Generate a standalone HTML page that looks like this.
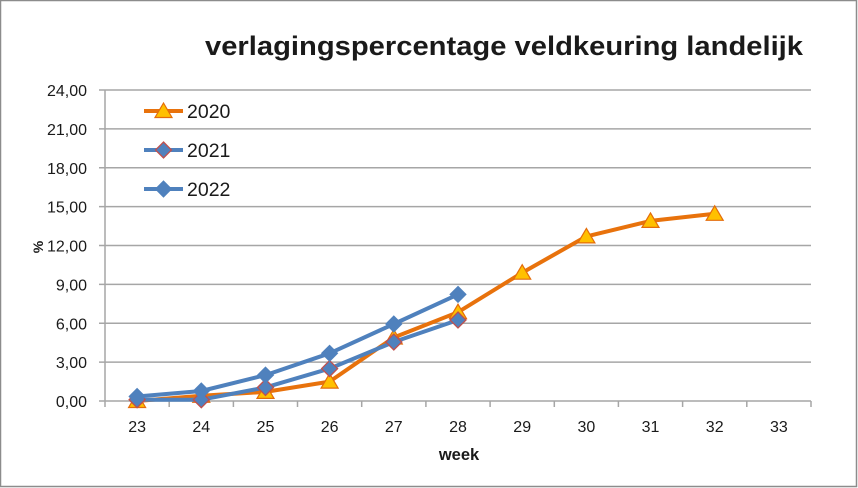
<!DOCTYPE html>
<html>
<head>
<meta charset="utf-8">
<style>
  html,body{margin:0;padding:0;background:#fff;}
  svg{display:block;}
  text{font-family:"Liberation Sans", "DejaVu Sans", sans-serif;fill:#1a1a1a;}
</style>
</head>
<body>
<svg width="858" height="488" viewBox="0 0 858 488" xmlns="http://www.w3.org/2000/svg">
  <rect x="0" y="0" width="858" height="488" fill="#fff"/>
  <rect x="0.5" y="0.5" width="856" height="486" fill="none" stroke="#8c8c8c" stroke-width="1.5"/>

  <!-- Title -->
  <text x="205" y="55" font-size="27" font-weight="bold" textLength="598" lengthAdjust="spacingAndGlyphs" fill="#000">verlagingspercentage veldkeuring landelijk</text>

  <!-- gridlines -->
  <g stroke="#a6a6a6" stroke-width="1.5">
    <line x1="99" y1="90" x2="811" y2="90"/>
    <line x1="99" y1="128.9" x2="811" y2="128.9"/>
    <line x1="99" y1="167.8" x2="811" y2="167.8"/>
    <line x1="99" y1="206.6" x2="811" y2="206.6"/>
    <line x1="99" y1="245.5" x2="811" y2="245.5"/>
    <line x1="99" y1="284.4" x2="811" y2="284.4"/>
    <line x1="99" y1="323.3" x2="811" y2="323.3"/>
    <line x1="99" y1="362.1" x2="811" y2="362.1"/>
    <line x1="99" y1="401" x2="811" y2="401"/>
    <line x1="105" y1="90" x2="105" y2="407"/>
    <line x1="169.2" y1="401" x2="169.2" y2="407"/>
    <line x1="233.4" y1="401" x2="233.4" y2="407"/>
    <line x1="297.5" y1="401" x2="297.5" y2="407"/>
    <line x1="361.7" y1="401" x2="361.7" y2="407"/>
    <line x1="425.9" y1="401" x2="425.9" y2="407"/>
    <line x1="490.1" y1="401" x2="490.1" y2="407"/>
    <line x1="554.3" y1="401" x2="554.3" y2="407"/>
    <line x1="618.4" y1="401" x2="618.4" y2="407"/>
    <line x1="682.6" y1="401" x2="682.6" y2="407"/>
    <line x1="746.8" y1="401" x2="746.8" y2="407"/>
    <line x1="811" y1="401" x2="811" y2="407"/>
  </g>

  <!-- y labels -->
  <g font-size="16" text-anchor="end">
    <text x="87" y="96">24,00</text>
    <text x="87" y="134.9">21,00</text>
    <text x="87" y="173.8">18,00</text>
    <text x="87" y="212.6">15,00</text>
    <text x="87" y="251.5">12,00</text>
    <text x="87" y="290.4">9,00</text>
    <text x="87" y="329.3">6,00</text>
    <text x="87" y="368.1">3,00</text>
    <text x="87" y="407">0,00</text>
  </g>
  <text transform="translate(43,247) rotate(-90)" font-size="14" font-weight="bold" text-anchor="middle">%</text>

  <!-- x labels -->
  <g font-size="16" text-anchor="middle">
    <text x="137.1" y="432">23</text>
    <text x="201.3" y="432">24</text>
    <text x="265.5" y="432">25</text>
    <text x="329.6" y="432">26</text>
    <text x="393.8" y="432">27</text>
    <text x="458.0" y="432">28</text>
    <text x="522.2" y="432">29</text>
    <text x="586.4" y="432">30</text>
    <text x="650.5" y="432">31</text>
    <text x="714.7" y="432">32</text>
    <text x="778.9" y="432">33</text>
  </g>
  <text x="459" y="460" font-size="16.5" font-weight="bold" text-anchor="middle">week</text>

  <defs>
    <path id="tri" d="M0,-8 L8.5,6.5 L-8.5,6.5 Z" fill="#ffc000" stroke="#e46c0a" stroke-width="1.2"/>
    <path id="dr" d="M0,-8 L8,0 L0,8 L-8,0 Z" fill="#4f81bd" stroke="#c0504d" stroke-width="1.3"/>
    <path id="db" d="M0,-8 L8,0 L0,8 L-8,0 Z" fill="#4f81bd" stroke="#4f81bd" stroke-width="1"/>
  </defs>

  <!-- 2020 -->
  <polyline fill="none" stroke="#e8720c" stroke-width="4" stroke-linejoin="round" points="137.1,401 201.3,395.8 265.5,391.9 329.6,381.6 393.8,337.5 458.0,312.2 522.2,272.7 586.4,236.4 650.5,220.9 714.7,213.8"/>
  <use href="#tri" x="137.1" y="401"/>
  <use href="#tri" x="201.3" y="395.8"/>
  <use href="#tri" x="265.5" y="391.9"/>
  <use href="#tri" x="329.6" y="381.6"/>
  <use href="#tri" x="393.8" y="337.5"/>
  <use href="#tri" x="458.0" y="312.2"/>
  <use href="#tri" x="522.2" y="272.7"/>
  <use href="#tri" x="586.4" y="236.4"/>
  <use href="#tri" x="650.5" y="220.9"/>
  <use href="#tri" x="714.7" y="213.8"/>

  <!-- 2021 -->
  <polyline fill="none" stroke="#4f81bd" stroke-width="4" stroke-linejoin="round" points="137.1,399.7 201.3,399.7 265.5,387.4 329.6,368.6 393.8,342.0 458.0,320.0"/>
  <use href="#dr" x="137.1" y="399.7"/>
  <use href="#dr" x="201.3" y="399.7"/>
  <use href="#dr" x="265.5" y="387.4"/>
  <use href="#dr" x="329.6" y="368.6"/>
  <use href="#dr" x="393.8" y="342.0"/>
  <use href="#dr" x="458.0" y="320.0"/>

  <!-- 2022 -->
  <polyline fill="none" stroke="#4f81bd" stroke-width="4" stroke-linejoin="round" points="137.1,396.5 201.3,391.0 265.5,375.1 329.6,353.3 393.8,324.0 458.0,294.4"/>
  <use href="#db" x="137.1" y="396.5"/>
  <use href="#db" x="201.3" y="391.0"/>
  <use href="#db" x="265.5" y="375.1"/>
  <use href="#db" x="329.6" y="353.3"/>
  <use href="#db" x="393.8" y="324.0"/>
  <use href="#db" x="458.0" y="294.4"/>

  <!-- legend -->
  <line x1="144" y1="111" x2="183" y2="111" stroke="#e8720c" stroke-width="4"/>
  <use href="#tri" x="163.5" y="111"/>
  <text x="187" y="118" font-size="19.5">2020</text>

  <line x1="144" y1="150" x2="183" y2="150" stroke="#4f81bd" stroke-width="4"/>
  <use href="#dr" x="163.5" y="150"/>
  <text x="187" y="157" font-size="19.5">2021</text>

  <line x1="144" y1="189" x2="183" y2="189" stroke="#4f81bd" stroke-width="4"/>
  <use href="#db" x="163.5" y="189"/>
  <text x="187" y="196" font-size="19.5">2022</text>
</svg>
</body>
</html>
